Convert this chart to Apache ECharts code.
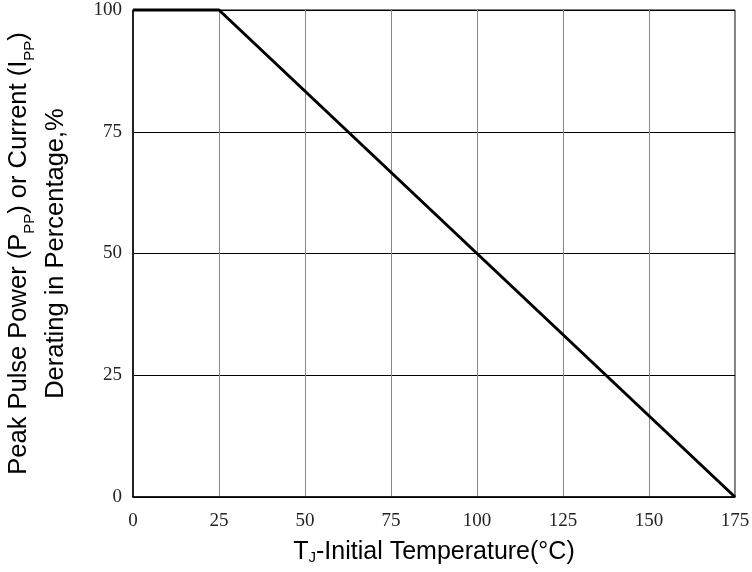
<!DOCTYPE html>
<html>
<head>
<meta charset="utf-8">
<script src="https://cdn.jsdelivr.net/npm/echarts@6/dist/echarts.min.js"></script>
<style>html,body{margin:0;padding:0;background:#fff}#c{width:752px;height:572px}</style>
</head>
<body>
<div id="c"></div>
<script>
const temperatures = [0, 25, 175];
const deratingPercent = [100, 100, 0];
const xTicks = [0, 25, 50, 75, 100, 125, 150, 175];
const yTicks = [0, 25, 50, 75, 100];

const chart = echarts.init(document.getElementById('c'), null, {renderer: 'canvas'});
const sans = 'Liberation Sans, Arial';
chart.setOption({
  animation: false,
  backgroundColor: '#fff',
  grid: {left: 133, top: 10, right: 17, bottom: 75, show: true, borderColor: '#000', borderWidth: 1,
    containLabel: false, outerBoundsMode: 'none'},
  xAxis: {
    type: 'value', min: xTicks[0], max: xTicks[xTicks.length - 1], interval: 25,
    axisLine: {show: true, lineStyle: {color: '#000', width: 1.5}},
    axisTick: {show: false},
    axisLabel: {margin: 15, fontFamily: 'Liberation Serif', fontSize: 19, color: '#222'},
    splitLine: {show: true, lineStyle: {color: '#888', width: 1}},
    name: 'T{sub|J}-Initial Temperature(°C)',
    nameLocation: 'middle', nameGap: 42,
    nameTextStyle: {fontFamily: sans, fontSize: 25, color: '#000', lineHeight: 26,
      rich: {sub: {fontSize: 15, fontFamily: sans, color: '#000', verticalAlign: 'bottom', lineHeight: 13}}}
  },
  yAxis: {
    type: 'value', min: yTicks[0], max: yTicks[yTicks.length - 1], interval: 25,
    axisLine: {show: true, lineStyle: {color: '#000', width: 1.5}},
    axisTick: {show: false},
    axisLabel: {margin: 11, fontFamily: 'Liberation Serif', fontSize: 19, color: '#222'},
    splitLine: {show: true, lineStyle: {color: '#000', width: 1}},
    name: 'Peak Pulse Power (P{sub|PP}) or Current (I{sub|PP})\nDerating in Percentage,%',
    nameLocation: 'middle', nameRotate: 90, nameGap: 59,
    nameTextStyle: {fontFamily: sans, fontSize: 25.5, color: '#000', lineHeight: 37, align: 'center',
      rich: {sub: {fontSize: 15, fontFamily: sans, color: '#000', verticalAlign: 'bottom', lineHeight: 30}}}
  },
  series: [{
    type: 'line',
    data: temperatures.map((t, i) => [t, deratingPercent[i]]),
    symbol: 'none',
    lineStyle: {color: '#000', width: 3},
    clip: false
  }]
});
</script>
</body>
</html>
